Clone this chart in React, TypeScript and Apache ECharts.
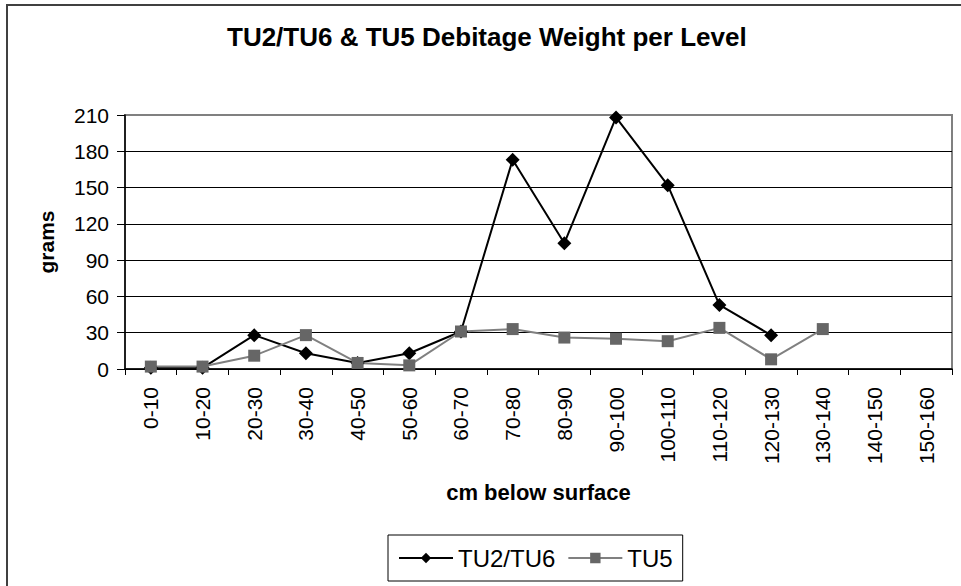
import React, { useEffect, useRef } from "react";
import * as echarts from "echarts";

const categories = [
  "0-10", "10-20", "20-30", "30-40", "40-50", "50-60", "60-70", "70-80",
  "80-90", "90-100", "100-110", "110-120", "120-130", "130-140", "140-150", "150-160",
];
const tu2tu6 = [1, 1, 28, 13, 5, 13, 31, 173, 104, 208, 152, 53, 28, null, null, null];
const tu5 = [2, 2, 11, 28, 5, 3, 31, 33, 26, 25, 23, 34, 8, 33, null, null];

const yMin = 0;
const yMax = 210;
const yInterval = 30;

const FONT = '"Liberation Sans", Arial, Helvetica, sans-serif';

export default function App() {
  const ref = useRef<HTMLDivElement>(null);

  useEffect(() => {
    if (!ref.current) return;
    const chart = echarts.init(ref.current, null, { renderer: "svg" });
    chart.setOption({
      animation: false,
      backgroundColor: "#ffffff",
      textStyle: { fontFamily: FONT, color: "#000" },
      title: {
        text: "TU2/TU6 & TU5 Debitage Weight per Level",
        left: 227,
        top: 24,
        padding: 0,
        textStyle: { fontFamily: FONT, fontSize: 26, fontWeight: "bold", color: "#000" },
      },
      graphic: [
        {
          type: "rect",
          silent: true,
          shape: { x: 7, y: 5, width: 1400, height: 1400 },
          style: { fill: "none", stroke: "#404040", lineWidth: 2 },
        },
      ],
      legend: {
        data: ["TU2/TU6", "TU5"],
        left: 388,
        top: 535,
        orient: "horizontal",
        padding: [11, 10, 11, 10],
        itemGap: 12,
        itemWidth: 54,
        itemHeight: 13,
        borderColor: "#000",
        borderWidth: 1,
        textStyle: { fontFamily: FONT, fontSize: 24, color: "#000" },
      },
      grid: {
        left: 125,
        top: 115,
        right: 9,
        bottom: 217,
        show: true,
        borderColor: "#808080",
        borderWidth: 2,
        backgroundColor: "transparent",
      },
      xAxis: {
        type: "category",
        data: categories,
        boundaryGap: true,
        axisLine: { show: true, lineStyle: { color: "#000", width: 1.5 } },
        axisTick: { show: true, length: 6, lineStyle: { color: "#000", width: 1 } },
        axisLabel: {
          rotate: 90,
          interval: 0,
          margin: 18,
          fontSize: 21,
          color: "#000",
          fontFamily: FONT,
        },
        splitLine: { show: false },
        name: "cm below surface",
        nameLocation: "middle",
        nameGap: 112,
        nameTextStyle: { fontFamily: FONT, fontSize: 22, fontWeight: "bold", color: "#000" },
      },
      yAxis: {
        type: "value",
        min: yMin,
        max: yMax,
        interval: yInterval,
        axisLine: { show: true, lineStyle: { color: "#000", width: 1.5 } },
        axisTick: { show: true, length: 8, lineStyle: { color: "#000", width: 1 } },
        axisLabel: { margin: 16, fontSize: 21, color: "#000", fontFamily: FONT },
        splitLine: { show: true, showMaxLine: false, lineStyle: { color: "#000", width: 1 } },
        name: "grams",
        nameLocation: "middle",
        nameGap: 68,
        nameTextStyle: { fontFamily: FONT, fontSize: 21, fontWeight: "bold", color: "#000" },
      },
      series: [
        {
          name: "TU2/TU6",
          type: "line",
          data: tu2tu6,
          symbol: "diamond",
          symbolSize: 14,
          showAllSymbol: true,
          connectNulls: false,
          itemStyle: { color: "#000" },
          lineStyle: { color: "#000", width: 2 },
        },
        {
          name: "TU5",
          type: "line",
          data: tu5,
          symbol: "rect",
          symbolSize: 12,
          showAllSymbol: true,
          connectNulls: false,
          itemStyle: { color: "#666666" },
          lineStyle: { color: "#808080", width: 2 },
        },
      ],
    });
    return () => chart.dispose();
  }, []);

  return (
    <div
      ref={ref}
      style={{ position: "fixed", left: 0, top: 0, width: 961, height: 586, background: "#fff" }}
    />
  );
}
